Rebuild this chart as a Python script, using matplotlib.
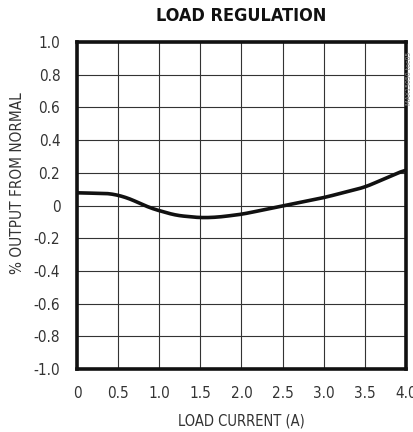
import matplotlib
matplotlib.use("Agg")
import matplotlib.pyplot as plt
import numpy as np

plt.rcParams['font.family'] = ['DejaVu Sans']
plt.rcParams['font.stretch'] = 'condensed'

# Data
load_current = [0.0, 0.2, 0.4, 0.6, 0.9, 1.2, 1.5, 1.7, 2.0, 2.5, 3.0, 3.5, 4.0]
pct_output = [0.078, 0.075, 0.074, 0.050, -0.017, -0.060, -0.075, -0.072, -0.054, -0.003, 0.048, 0.112, 0.220]

xticks = [0, 0.5, 1.0, 1.5, 2.0, 2.5, 3.0, 3.5, 4.0]
xticklabels = ["0", "0.5", "1.0", "1.5", "2.0", "2.5", "3.0", "3.5", "4.0"]
yticks = [1.0, 0.8, 0.6, 0.4, 0.2, 0, -0.2, -0.4, -0.6, -0.8, -1.0]
yticklabels = ["1.0", "0.8", "0.6", "0.4", "0.2", "0", "-0.2", "-0.4", "-0.6", "-0.8", "-1.0"]

fig = plt.figure(figsize=(4.13, 4.32), dpi=100)
ax = fig.add_axes([0.1864, 0.1458, 0.7966, 0.757])

# light smoothing of the read points
xs = np.linspace(0, 4, 300)
ys = np.interp(xs, load_current, pct_output)
k = np.ones(15) / 15
ys_s = np.convolve(np.pad(ys, 7, mode='edge'), k, mode='valid')
ax.plot(xs, ys_s, color='#111111', lw=2.6, solid_capstyle='butt')

ax.set_xlim(0, 4)
ax.set_ylim(-1, 1)
ax.set_xticks(xticks)
ax.set_xticklabels(xticklabels)
ax.set_yticks(yticks)
ax.set_yticklabels(yticklabels)
ax.tick_params(axis='x', length=0, labelsize=11, colors='#333333', pad=12)
ax.tick_params(axis='y', length=0, labelsize=11, colors='#333333', pad=12)
ax.grid(True, color='#333333', lw=0.8)
for s in ax.spines.values():
    s.set_linewidth(2.6)
    s.set_color('#111111')

ax.set_xlabel("LOAD CURRENT (A)", fontsize=10.5, color='#333333', labelpad=9)
fig.text(18 / 413, 1 - 183 / 432, "% OUTPUT FROM NORMAL", rotation=90,
         ha='center', va='center', fontsize=11, color='#333333')
fig.text(241 / 413, 1 - 16 / 432, "LOAD REGULATION", ha='center', va='center',
         fontsize=13, fontweight='bold', color='#111111')
fig.text(0.997, 0.88, "MAX15050 toc05", rotation=90, ha='right', va='top',
         fontsize=5, color='#888888')

fig.savefig("out.png", dpi=100)
